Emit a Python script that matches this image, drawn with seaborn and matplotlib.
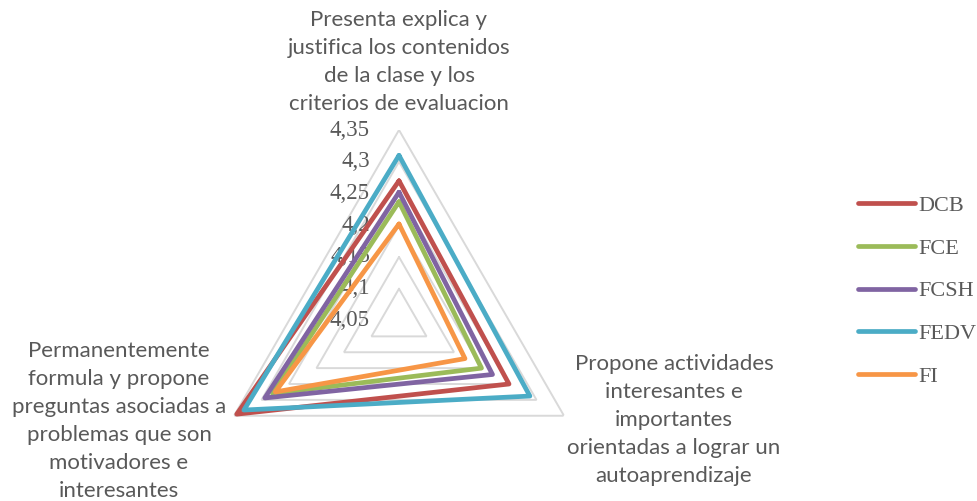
import numpy as np
import pandas as pd
import matplotlib
matplotlib.use("Agg")
import matplotlib.pyplot as plt
import seaborn as sns

# ---- data ----
categories = [
    "Presenta explica y\njustifica los contenidos\nde la clase y los\ncriterios de evaluacion",
    "Propone actividades\ninteresantes e\nimportantes\norientadas a lograr un\nautoaprendizaje",
    "Permanentemente\nformula y propone\npreguntas asociadas a\nproblemas que son\nmotivadores e\ninteresantes",
]
series_names = ["DCB", "FCE", "FCSH", "FEDV", "FI"]
DCB = [4.27, 4.25, 4.345]
FCE = [4.237, 4.20, 4.28]
FCSH = [4.252, 4.22, 4.294]
FEDV = [4.31, 4.288, 4.332]
FI = [4.202, 4.17, 4.275]
values = [DCB, FCE, FCSH, FEDV, FI]
tick_values = [4.05, 4.1, 4.15, 4.2, 4.25, 4.3, 4.35]
tick_labels = ["4,05", "4,1", "4,15", "4,2", "4,25", "4,3", "4,35"]
colors = ["#C0504D", "#9BBB59", "#8064A2", "#4BACC6", "#F79646"]

sns.set_theme(style="white")
plt.rcParams["font.family"] = ["Lato", "DejaVu Sans"]

W, H = 977, 501
fig = plt.figure(figsize=(W / 100, H / 100), dpi=100)
cx, cy, R = 399, 320.5, 190.5
ax = fig.add_axes([(cx - R) / W, (H - cy - R) / H, 2 * R / W, 2 * R / H], projection="polar")
ax.set_theta_offset(np.pi / 2)
ax.set_theta_direction(-1)
ax.set_ylim(tick_values[0], tick_values[-1])
ax.set_axis_off()

n = len(categories)
theta = np.linspace(0, 2 * np.pi, n, endpoint=False)
theta_closed = np.append(theta, 2 * np.pi)

# grid triangles
for tv in tick_values[1:]:
    ax.plot(theta_closed, [tv] * (n + 1), color="#D9D9D9", lw=1.4, zorder=1,
            solid_joinstyle="miter")

# data lines
rows = []
for name, vals in zip(series_names, values):
    vv = list(vals) + [vals[0]]
    for i, (t, v) in enumerate(zip(theta_closed, vv)):
        rows.append({"series": name, "theta": t, "value": v, "order": i})
df = pd.DataFrame(rows)
sns.lineplot(data=df, x="theta", y="value", hue="series", hue_order=series_names,
             palette=colors, sort=False, estimator=None, lw=3.4, ax=ax,
             solid_joinstyle="round", solid_capstyle="round", legend=True, zorder=3)

# radial tick labels
for tv, tl in zip(tick_values, tick_labels):
    ax.annotate(tl, xy=(0, tv), xytext=(-29 * 0.72, 0), textcoords="offset points",
                ha="right", va="center", fontsize=16.5, color="#595959",
                family=["Liberation Serif", "DejaVu Serif"], zorder=2)

# category labels
label_pos = [(399, 62), (674, 420), (119, 421)]
for lab, (px, py) in zip(categories, label_pos):
    fig.text(px / W, 1 - py / H, lab, ha="center", va="center", multialignment="center",
             fontsize=16, color="#595959", linespacing=1.5)

# legend
handles, labels = ax.get_legend_handles_labels()
if ax.get_legend():
    ax.get_legend().remove()
for h in handles:
    h.set_solid_capstyle("round")
    h.set_linewidth(3.4)
leg = fig.legend(handles, labels, loc="center left", bbox_to_anchor=(838 / W, 1 - 291 / H),
                 frameon=False, handlelength=2.55, handletextpad=0.15, labelspacing=1.0,
                 prop={"family": ["Liberation Serif", "DejaVu Serif"], "size": 16})
for t in leg.get_texts():
    t.set_color("#595959")

fig.savefig("out.png", dpi=100)
